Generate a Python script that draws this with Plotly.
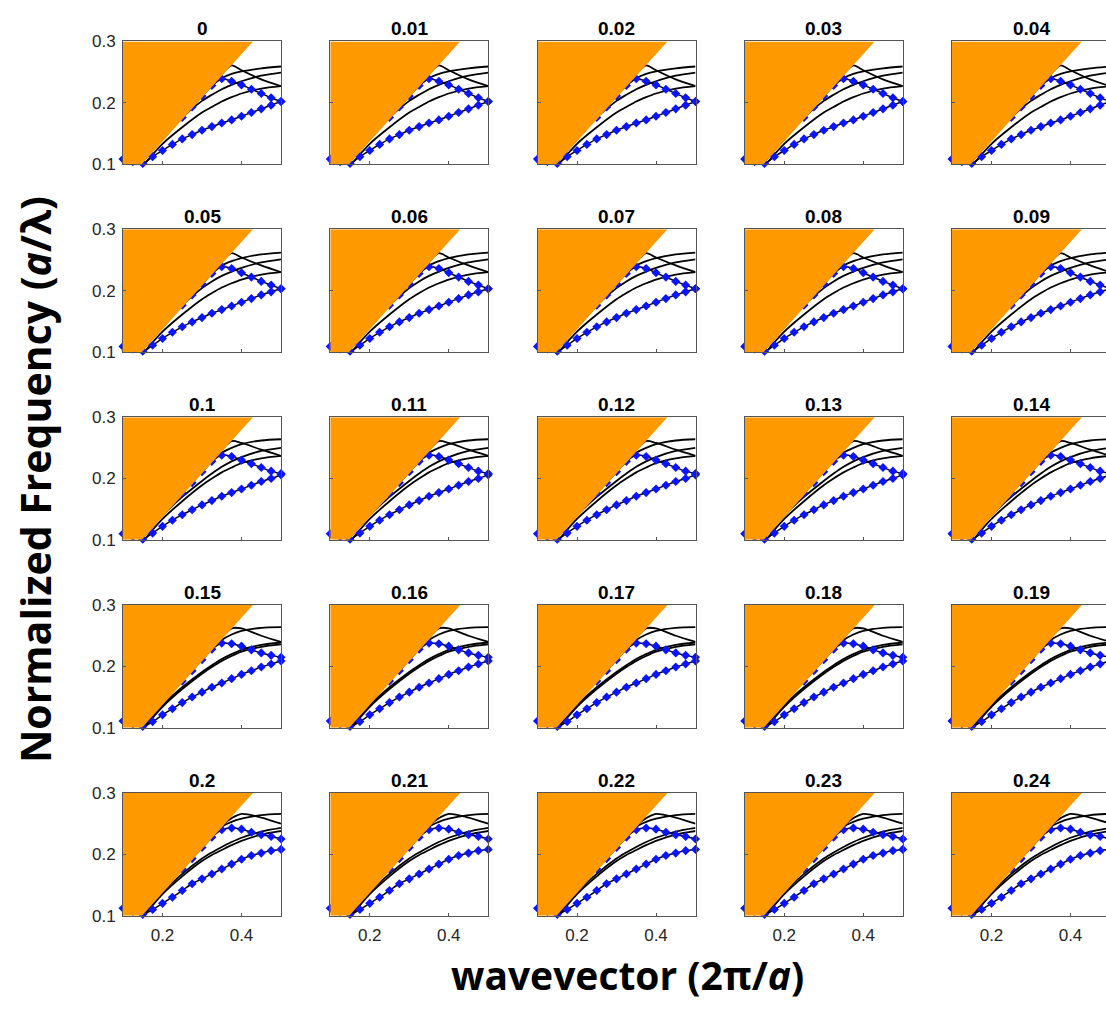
import plotly.graph_objects as go

# ---------------- data ----------------
TITLES = ["0", "0.01", "0.02", "0.03", "0.04",
          "0.05", "0.06", "0.07", "0.08", "0.09",
          "0.1", "0.11", "0.12", "0.13", "0.14",
          "0.15", "0.16", "0.17", "0.18", "0.19",
          "0.2", "0.21", "0.22", "0.23", "0.24"]

# wavevector grid of the highlighted (blue) band
K = [0.1, 0.125, 0.15, 0.175, 0.2, 0.225, 0.25, 0.275, 0.3,
     0.325, 0.35, 0.375, 0.4, 0.425, 0.45, 0.475, 0.5]
# folded-back branch of the blue band
K_HI = [0.25, 0.275, 0.3, 0.325, 0.35, 0.375, 0.4, 0.425, 0.45, 0.475, 0.5]
# grid of the black bands
KB = [0.15, 0.2, 0.25, 0.3, 0.325, 0.35, 0.375, 0.4, 0.45, 0.5]

# light line (edge of the light cone)
LIGHT_K = [0.148, 0.429]
LIGHT_W = [0.1, 0.3]

# blue band, lower branch, one list per row of panels
BLUE_LO_R1 = [0.108, 0.104, 0.101, 0.112, 0.122, 0.132, 0.141, 0.148, 0.155, 0.161, 0.167, 0.172, 0.178, 0.184, 0.190, 0.196, 0.202]
BLUE_LO_R2 = [0.109, 0.105, 0.101, 0.111, 0.122, 0.132, 0.141, 0.149, 0.156, 0.163, 0.169, 0.175, 0.181, 0.187, 0.193, 0.198, 0.203]
BLUE_LO_R3 = [0.110, 0.105, 0.101, 0.111, 0.122, 0.132, 0.141, 0.149, 0.157, 0.164, 0.171, 0.177, 0.183, 0.189, 0.195, 0.200, 0.206]
BLUE_LO_R4 = [0.111, 0.106, 0.102, 0.110, 0.121, 0.131, 0.141, 0.150, 0.158, 0.166, 0.173, 0.180, 0.187, 0.193, 0.199, 0.204, 0.209]
BLUE_LO_R5 = [0.112, 0.107, 0.102, 0.110, 0.120, 0.130, 0.141, 0.152, 0.160, 0.168, 0.176, 0.184, 0.192, 0.198, 0.202, 0.206, 0.208]

# blue band, folded upper branch
BLUE_HI_R1 = [0.176, 0.193, 0.211, 0.228, 0.239, 0.235, 0.229, 0.222, 0.215, 0.208, 0.202]
BLUE_HI_R2 = [0.176, 0.193, 0.211, 0.228, 0.239, 0.236, 0.229, 0.222, 0.215, 0.209, 0.203]
BLUE_HI_R3 = [0.176, 0.193, 0.211, 0.228, 0.238, 0.236, 0.230, 0.224, 0.218, 0.212, 0.208]
BLUE_HI_R4 = [0.176, 0.193, 0.211, 0.228, 0.238, 0.237, 0.233, 0.227, 0.222, 0.218, 0.215]
BLUE_HI_R5 = [0.176, 0.193, 0.211, 0.228, 0.240, 0.243, 0.241, 0.236, 0.232, 0.229, 0.225]

# black bands (values inside the light cone are hidden by it)
B1_R1 = [0.097, 0.133, 0.160, 0.184, 0.193, 0.202, 0.209, 0.215, 0.223, 0.227]
B2_R1 = [0.104, 0.140, 0.176, 0.203, 0.213, 0.222, 0.229, 0.235, 0.244, 0.249]
B3_R1 = [0.105, 0.141, 0.177, 0.211, 0.228, 0.240, 0.247, 0.251, 0.256, 0.259]
B4_R1 = [0.105, 0.141, 0.177, 0.211, 0.229, 0.247, 0.261, 0.253, 0.238, 0.227]

B1_R2 = [0.097, 0.133, 0.161, 0.186, 0.196, 0.205, 0.212, 0.218, 0.226, 0.230]
B2_R2 = [0.104, 0.140, 0.176, 0.204, 0.215, 0.224, 0.231, 0.237, 0.246, 0.251]
B3_R2 = [0.105, 0.141, 0.177, 0.211, 0.228, 0.241, 0.248, 0.253, 0.259, 0.262]
B4_R2 = [0.105, 0.141, 0.177, 0.211, 0.229, 0.247, 0.261, 0.254, 0.241, 0.230]

B1_R3 = [0.097, 0.134, 0.163, 0.189, 0.200, 0.210, 0.218, 0.225, 0.233, 0.237]
B2_R3 = [0.104, 0.140, 0.170, 0.196, 0.208, 0.219, 0.228, 0.235, 0.245, 0.250]
B3_R3 = [0.105, 0.141, 0.177, 0.211, 0.228, 0.242, 0.250, 0.256, 0.262, 0.264]
B4_R3 = [0.105, 0.141, 0.177, 0.211, 0.229, 0.247, 0.261, 0.258, 0.247, 0.237]

B1_R4 = [0.097, 0.134, 0.163, 0.188, 0.199, 0.209, 0.217, 0.224, 0.232, 0.236]
B2_R4 = [0.100, 0.137, 0.166, 0.191, 0.202, 0.212, 0.220, 0.227, 0.235, 0.239]
B3_R4 = [0.105, 0.141, 0.177, 0.211, 0.228, 0.243, 0.252, 0.258, 0.263, 0.264]
B4_R4 = [0.105, 0.141, 0.177, 0.211, 0.229, 0.247, 0.262, 0.262, 0.250, 0.240]

B1_R5 = [0.097, 0.135, 0.164, 0.189, 0.199, 0.207, 0.215, 0.222, 0.232, 0.238]
B2_R5 = [0.100, 0.138, 0.168, 0.193, 0.203, 0.212, 0.220, 0.227, 0.237, 0.243]
B3_R5 = [0.105, 0.141, 0.177, 0.211, 0.229, 0.247, 0.259, 0.266, 0.260, 0.250]
B4_R5 = [0.105, 0.141, 0.177, 0.211, 0.228, 0.245, 0.253, 0.258, 0.264, 0.266]

X_TICKS = [0.2, 0.4]
Y_TICKS = [0.1, 0.2, 0.3]
X_RANGE = [0.1, 0.5]
Y_RANGE = [0.1, 0.3]

BLUE_LO = [BLUE_LO_R1, BLUE_LO_R2, BLUE_LO_R3, BLUE_LO_R4, BLUE_LO_R5]
BLUE_HI = [BLUE_HI_R1, BLUE_HI_R2, BLUE_HI_R3, BLUE_HI_R4, BLUE_HI_R5]
BLACK = [[B1_R1, B2_R1, B3_R1, B4_R1],
         [B1_R2, B2_R2, B3_R2, B4_R2],
         [B1_R3, B2_R3, B3_R3, B4_R3],
         [B1_R4, B2_R4, B3_R4, B4_R4],
         [B1_R5, B2_R5, B3_R5, B4_R5]]

# ---------------- layout geometry (pixels) ----------------
W, H = 1106, 1011
COL_LEFT = [123, 330.25, 537.5, 744.75, 952]
ROW_TOP = [33, 224.5, 416, 607.5, 799]
PW, PH = 158, 125

ORANGE = "#ff9900"
AXC = "#555555"
TXT = "#262626"
BLUE = "#0a14ff"

fig = go.Figure()
layout = dict(width=W, height=H, autosize=False,
              margin=dict(l=0, r=0, t=0, b=0),
              paper_bgcolor="white", plot_bgcolor="white",
              showlegend=False)
annotations = []

for p in range(25):
    r, c = divmod(p, 5)
    n = p + 1
    xs = "x" if n == 1 else f"x{n}"
    ys = "y" if n == 1 else f"y{n}"
    xk = "xaxis" if n == 1 else f"xaxis{n}"
    yk = "yaxis" if n == 1 else f"yaxis{n}"

    x0 = COL_LEFT[c] / W
    x1 = min((COL_LEFT[c] + PW) / W, 1.0)
    vis_w = x1 * W - COL_LEFT[c]
    xr = [X_RANGE[0], X_RANGE[0] + (X_RANGE[1] - X_RANGE[0]) * vis_w / PW]
    y1 = 1 - ROW_TOP[r] / H
    y0 = 1 - (ROW_TOP[r] + PH) / H

    layout[xk] = dict(domain=[x0, x1], range=xr, anchor=ys,
                      showline=True, linecolor=AXC, linewidth=1, mirror=True,
                      ticks="inside", ticklen=3, tickcolor=AXC,
                      tickvals=X_TICKS, ticktext=["0.2", "0.4"],
                      showticklabels=(r == 4), showgrid=False, zeroline=False,
                      ticklabelstandoff=4,
                      tickfont=dict(family="Liberation Sans, Arial", size=17, color=TXT),
                      fixedrange=True)
    layout[yk] = dict(domain=[y0, y1], range=Y_RANGE, anchor=xs,
                      showline=True, linecolor=AXC, linewidth=1, mirror=(c < 4),
                      ticks="inside", ticklen=3, tickcolor=AXC,
                      tickvals=Y_TICKS, ticktext=["0.1", "0.2", "0.3"],
                      showticklabels=(c == 0), showgrid=False, zeroline=False,
                      ticklabelstandoff=3,
                      tickfont=dict(family="Liberation Sans, Arial", size=17, color=TXT),
                      fixedrange=True)

    # black bands
    for band in BLACK[r]:
        fig.add_trace(go.Scatter(x=KB, y=band, mode="lines", xaxis=xs, yaxis=ys,
                                 line=dict(color="black", width=1.8, shape="spline", smoothing=0.8),
                                 hoverinfo="skip"))
    # blue band (upper folded branch and lower branch)
    fig.add_trace(go.Scatter(x=K_HI, y=BLUE_HI[r], mode="lines+markers", xaxis=xs, yaxis=ys,
                             line=dict(color="black", width=1.5, shape="spline", smoothing=0.8),
                             marker=dict(color=BLUE, size=7, symbol="diamond",
                                         line=dict(width=0)),
                             cliponaxis=False, hoverinfo="skip"))
    fig.add_trace(go.Scatter(x=K, y=BLUE_LO[r], mode="lines+markers", xaxis=xs, yaxis=ys,
                             line=dict(color="black", width=1.5, shape="spline", smoothing=0.8),
                             marker=dict(color=BLUE, size=7, symbol="diamond",
                                         line=dict(width=0)),
                             cliponaxis=False, hoverinfo="skip"))
    # light cone (drawn on top)
    fig.add_trace(go.Scatter(x=[X_RANGE[0]] + LIGHT_K + [X_RANGE[0]],
                             y=[Y_RANGE[0]] + LIGHT_W + [Y_RANGE[1]],
                             mode="lines", fill="toself", fillcolor=ORANGE,
                             line=dict(width=0, color=ORANGE), xaxis=xs, yaxis=ys,
                             hoverinfo="skip"))

    annotations.append(dict(text="<b>" + TITLES[p] + "</b>", xref="paper", yref="paper",
                            x=(COL_LEFT[c] + PW / 2) / W, y=1 - (ROW_TOP[r] - 13) / H,
                            xanchor="center", yanchor="middle", showarrow=False,
                            font=dict(family="Liberation Sans, Arial", size=19, color="black")))

annotations.append(dict(text="<b>Normalized Frequency (<i>a</i>/λ)</b>", xref="paper", yref="paper",
                        x=35 / W, y=1 - 480 / H, textangle=-90,
                        xanchor="center", yanchor="middle", showarrow=False,
                        font=dict(family="Open Sans", size=41, color="black")))
annotations.append(dict(text="<b>wavevector (2π/<i>a</i>)</b>", xref="paper", yref="paper",
                        x=627 / W, y=1 - 984 / H,
                        xanchor="center", yanchor="middle", showarrow=False,
                        font=dict(family="Open Sans", size=39, color="black")))

layout["annotations"] = annotations
fig.update_layout(**layout)
fig.write_html("out.html", config={"displayModeBar": False},
               post_script="document.body.style.margin='0';document.body.style.overflow='hidden';")
